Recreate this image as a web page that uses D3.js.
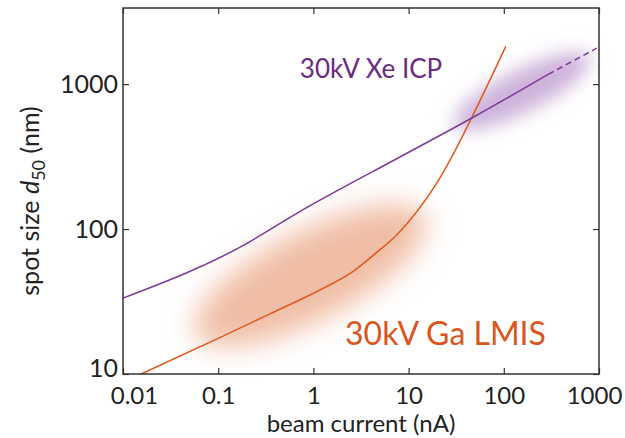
<!DOCTYPE html>
<html>
<head>
<meta charset="utf-8">
<script src="https://cdn.jsdelivr.net/npm/d3@7"></script>
<style>
  body { margin: 0; background: #fff; }
  text { font-family: Lato, "Noto Sans", sans-serif; }
</style>
</head>
<body>
<div id="chart"></div>
<script>
const width = 625;
const height = 438;
const margin = { top: 8, right: 26, bottom: 64, left: 123 };

// beam current (nA) / spot size d50 (nm)
const gaCurrent = [0.0155, 0.1, 0.35, 1.17, 2.5, 4.5, 7.5, 12, 20, 32, 46, 105];
const gaSpot = [10, 17.6, 26, 38, 50, 68, 91, 130, 210, 365, 586, 1820];

const xeCurrent = [0.01, 0.17, 0.72, 8.1, 46.7, 293];
const xeSpot = [33.4, 75, 132, 314, 586, 1167];
const xeDashCurrent = [293, 946];
const xeDashSpot = [1167, 1770];

// shaded regions: ends of the long axis, in data units
const gaRegion = [[0.045, 17], [18.9, 134]];
const xeRegion = [[25, 490], [946, 1622]];

const xTicks = [0.01, 0.1, 1, 10, 100, 1000];
const xTickLabels = ['0.01', '0.1', '1', '10', '100', '1000'];
const yTicks = [10, 100, 1000];
const yTickLabels = ['10', '100', '1000'];

const labels = [
  { text: '30kV Xe ICP', x: 0.72, y: 1100, color: '#6b2b80', size: 26 },
  { text: '30kV Ga LMIS', x: 2.15, y: 15.8, color: '#dc5520', size: 32 }
];

const svg = d3
  .select('#chart')
  .append('svg')
  .attr('width', width)
  .attr('height', height);

const xScale = d3
  .scaleLog()
  .domain([0.01, 1000])
  .range([margin.left, width - margin.right]);
const yScale = d3
  .scaleLog()
  .domain([10, 3350])
  .range([height - margin.bottom, margin.top]);

// blur filters for the shaded regions
const defs = svg.append('defs');
defs.append('filter').attr('id', 'blurGa')
  .attr('x', '-50%').attr('y', '-50%').attr('width', '200%').attr('height', '200%')
  .append('feGaussianBlur').attr('stdDeviation', 14);
defs.append('filter').attr('id', 'blurXe')
  .attr('x', '-50%').attr('y', '-50%').attr('width', '200%').attr('height', '200%')
  .append('feGaussianBlur').attr('stdDeviation', 9);

function region(ends, shrink, ry, fill, filter) {
  const x1 = xScale(ends[0][0]), y1 = yScale(ends[0][1]);
  const x2 = xScale(ends[1][0]), y2 = yScale(ends[1][1]);
  const cx = (x1 + x2) / 2, cy = (y1 + y2) / 2;
  const rx = Math.hypot(x2 - x1, y2 - y1) / 2 - shrink;
  const angle = Math.atan2(y2 - y1, x2 - x1) * 180 / Math.PI;
  svg.append('ellipse')
    .attr('cx', cx).attr('cy', cy)
    .attr('rx', rx).attr('ry', ry)
    .attr('transform', `rotate(${angle},${cx},${cy})`)
    .attr('fill', fill)
    .attr('filter', `url(#${filter})`);
}

region(gaRegion, 12, 44, '#f0bda5', 'blurGa');
region(xeRegion, 8, 21, '#cdb3da', 'blurXe');

// curves
const line = d3.line()
  .x((d) => xScale(d[0]))
  .y((d) => yScale(d[1]));

svg.append('path')
  .datum(gaCurrent.map((c, i) => [c, gaSpot[i]]))
  .attr('fill', 'none')
  .attr('stroke', '#e2581e')
  .attr('stroke-width', 1.5)
  .attr('d', line.curve(d3.curveMonotoneX));

svg.append('path')
  .datum(xeCurrent.map((c, i) => [c, xeSpot[i]]))
  .attr('fill', 'none')
  .attr('stroke', '#7e3a97')
  .attr('stroke-width', 1.5)
  .attr('d', line.curve(d3.curveMonotoneX));

svg.append('path')
  .datum(xeDashCurrent.map((c, i) => [c, xeDashSpot[i]]))
  .attr('fill', 'none')
  .attr('stroke', '#7e3a97')
  .attr('stroke-width', 1.5)
  .attr('stroke-dasharray', '6,4')
  .attr('d', line.curve(d3.curveLinear));

// frame and inward ticks on all four sides
const axisColor = '#333';
const tickLen = 6;
const plotBottom = height - margin.bottom;
const plotRight = width - margin.right;

const xAxis = svg.append('g')
  .attr('transform', `translate(0,${plotBottom})`)
  .call(d3.axisBottom(xScale).tickValues(xTicks)
    .tickFormat((d, i) => xTickLabels[i])
    .tickSizeInner(-tickLen).tickSizeOuter(0).tickPadding(13));
xAxis.selectAll('text')
  .attr('font-size', 24)
  .attr('fill', '#222')
  .attr('dx', (d, i) => (i === 0 ? 11 : i === xTicks.length - 1 ? -5 : 0));

svg.append('g')
  .attr('transform', `translate(0,${margin.top})`)
  .call(d3.axisTop(xScale).tickValues(xTicks).tickFormat('')
    .tickSizeInner(-tickLen).tickSizeOuter(0));

const yAxis = svg.append('g')
  .attr('transform', `translate(${margin.left},0)`)
  .call(d3.axisLeft(yScale).tickValues(yTicks)
    .tickFormat((d, i) => yTickLabels[i])
    .tickSizeInner(-tickLen).tickSizeOuter(0).tickPadding(5));
yAxis.selectAll('text')
  .attr('font-size', 25)
  .attr('fill', '#222')
  .attr('dy', (d, i) => (i === 0 ? '0.1em' : '0.32em'));

svg.append('g')
  .attr('transform', `translate(${plotRight},0)`)
  .call(d3.axisRight(yScale).tickValues(yTicks).tickFormat('')
    .tickSizeInner(-tickLen).tickSizeOuter(0));

svg.selectAll('.domain').remove();
svg.selectAll('.tick line').attr('stroke', axisColor).attr('stroke-width', 1.2);

svg.append('rect')
  .attr('x', margin.left).attr('y', margin.top)
  .attr('width', plotRight - margin.left)
  .attr('height', plotBottom - margin.top)
  .attr('fill', 'none')
  .attr('stroke', axisColor)
  .attr('stroke-width', 1.5);

// series labels
svg.selectAll('.series-label')
  .data(labels)
  .enter()
  .append('text')
  .attr('class', 'series-label')
  .attr('x', (d) => xScale(d.x))
  .attr('y', (d) => yScale(d.y))
  .attr('fill', (d) => d.color)
  .attr('font-size', (d) => d.size)
  .text((d) => d.text);

// axis titles
svg.append('text')
  .attr('x', (margin.left + plotRight) / 2)
  .attr('y', 432)
  .attr('text-anchor', 'middle')
  .attr('font-size', 24)
  .attr('fill', '#222')
  .text('beam current (nA)');

const yTitle = svg.append('text')
  .attr('transform', `translate(39,${(margin.top + plotBottom) / 2 + 10}) rotate(-90)`)
  .attr('text-anchor', 'middle')
  .attr('font-size', 25)
  .attr('fill', '#222');
yTitle.append('tspan').text('spot size ');
yTitle.append('tspan').attr('font-style', 'italic').text('d');
yTitle.append('tspan').attr('font-size', 18).attr('dy', 6).text('50');
yTitle.append('tspan').attr('dy', -6).text(' (nm)');
</script>
</body>
</html>
